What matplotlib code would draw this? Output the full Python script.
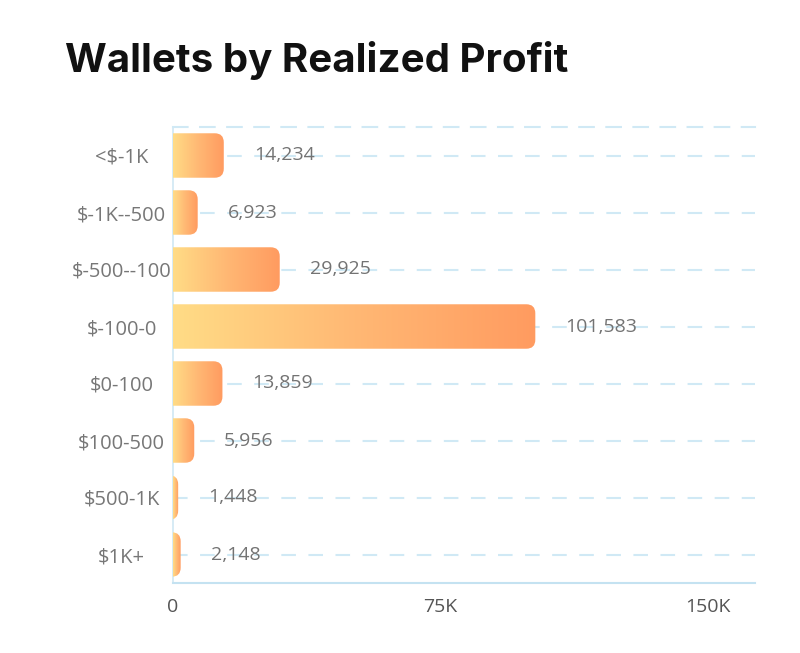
import numpy as np
import matplotlib
matplotlib.use("Agg")
import matplotlib.pyplot as plt
from matplotlib.patches import FancyBboxPatch
from matplotlib.colors import LinearSegmentedColormap
from matplotlib.ticker import FixedLocator, FixedFormatter

categories = ["<$-1K", "$-1K--500", "$-500--100", "$-100-0", "$0-100", "$100-500", "$500-1K", "$1K+"]
values = [14234, 6923, 29925, 101583, 13859, 5956, 1448, 2148]
xticks = [0, 75000, 150000]
xtick_labels = ["0", "75K", "150K"]
title = "Wallets by Realized Profit"

W, H, DPI = 800, 653, 100
fig = plt.figure(figsize=(W / DPI, H / DPI), dpi=DPI)
fig.patch.set_facecolor("white")
ax = fig.add_axes([173 / W, 70 / H, 582 / W, 456 / H])

xmax = 150000 * 582 / 535
n = len(categories)
ax.set_xlim(0, xmax)
ax.set_ylim(n - 0.5, -0.5)

font = "Open Sans"
grid_c = "#d0e9f5"
ax.set_axisbelow(True)
ax.spines["right"].set_visible(False)
ax.spines["top"].set_color(grid_c)
ax.spines["top"].set_linestyle((0, (7, 6)))
ax.spines["top"].set_linewidth(1.5)
ax.spines["left"].set_color("#cfe7f3")
ax.spines["left"].set_linewidth(1.2)
ax.spines["bottom"].set_color("#c4e2f1")
ax.spines["bottom"].set_linewidth(1.5)

ypos = np.arange(n)
ax.yaxis.set_major_locator(FixedLocator(ypos))
ax.yaxis.set_major_formatter(FixedFormatter(categories))
ax.xaxis.set_major_locator(FixedLocator(xticks))
ax.xaxis.set_major_formatter(FixedFormatter(xtick_labels))
ax.tick_params(axis="y", length=0, pad=37, labelsize=14.5, labelcolor="#777777")
ax.tick_params(axis="x", length=0, pad=11, labelsize=14, labelcolor="#555555")
for lbl in ax.get_yticklabels():
    lbl.set_horizontalalignment("center")
    lbl.set_fontfamily(font)
for lbl in ax.get_xticklabels():
    lbl.set_fontfamily(font)
ax.grid(axis="y", color=grid_c, linestyle=(0, (7, 6)), linewidth=1.5)
ax.grid(axis="x", visible=False)

# gradient bars with rounded right corners
cmap = LinearSegmentedColormap.from_list("g", ["#ffdc86", "#ffb874", "#ff9b60"])
grad = np.linspace(0, 1, 256).reshape(1, -1)
bh = 0.78
x_per_px = xmax / 582
y_per_px = n / 456
r_px = 9
r = r_px * x_per_px
aspect = y_per_px / x_per_px
for i, v in enumerate(values):
    ext = max(r, 2 * r - v)
    patch = FancyBboxPatch((-ext, i - bh / 2), v + ext, bh,
                           boxstyle=f"round,pad=0,rounding_size={r}",
                           mutation_aspect=aspect,
                           facecolor="none", edgecolor="none", zorder=3)
    ax.add_patch(patch)
    im = ax.imshow(grad, cmap=cmap, aspect="auto",
                   extent=(0, v, i + bh / 2, i - bh / 2), zorder=3,
                   interpolation="bilinear")
    im.set_clip_path(patch)
    ax.annotate(f"{v:,}", xy=(v, i), xytext=(30, 0), textcoords="offset pixels",
                ha="left", va="center", fontsize=14, color="#737373",
                family=font, zorder=4)

ax.set_xlim(0, xmax)
ax.set_ylim(n - 0.5, -0.5)

fig.text(65 / W, 1 - 72 / H, title, fontsize=29, fontweight="bold",
         family="Inter", color="#111111", ha="left", va="baseline")

fig.savefig("out.png", dpi=DPI, facecolor="white")
